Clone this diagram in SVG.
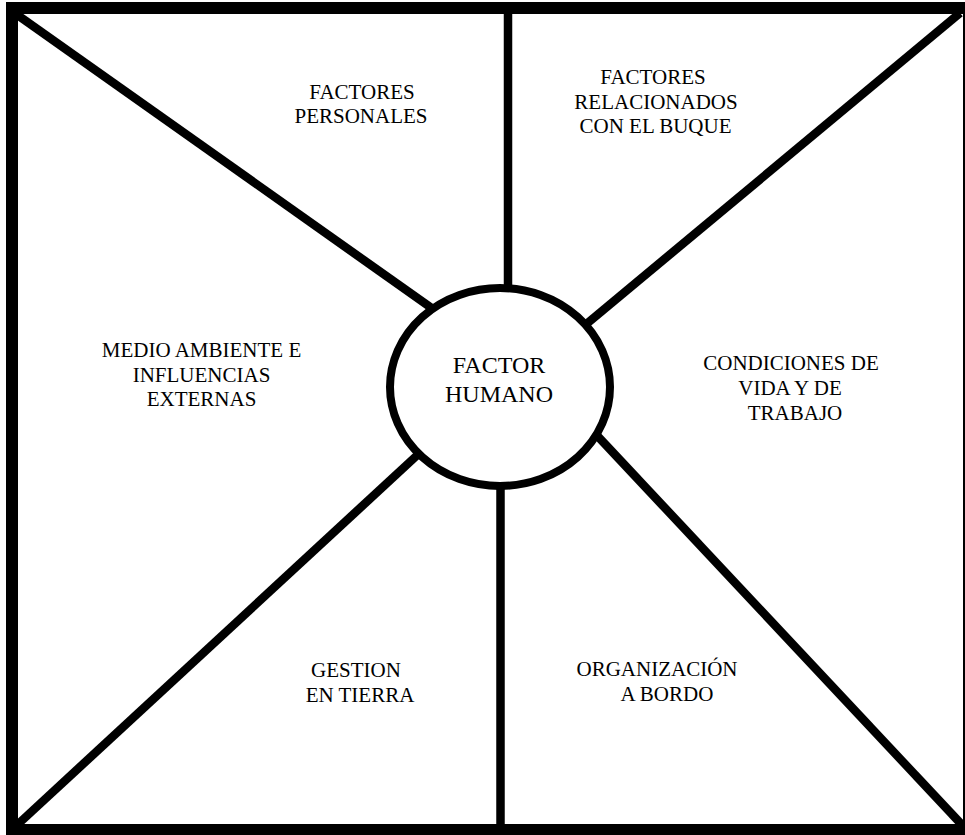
<svg xmlns="http://www.w3.org/2000/svg" width="965" height="835" viewBox="0 0 965 835">
<style>
.ln{stroke:#000;stroke-width:8.5;fill:none}
.t{font-family:"Liberation Serif","Times New Roman",serif;font-size:21px;fill:#000;text-anchor:middle}
.c{font-size:24px}
</style>
<rect width="965" height="835" fill="#fff"/>
<g id="connectors">
<line class="ln" x1="16" y1="14" x2="440" y2="314"/>
<line class="ln" x1="508" y1="14" x2="508" y2="300"/>
<line class="ln" x1="960" y1="13" x2="578" y2="331"/>
<line class="ln" x1="16" y1="826" x2="425" y2="448"/>
<line class="ln" x1="500.5" y1="480" x2="500.5" y2="826"/>
<line class="ln" x1="590" y1="428" x2="964" y2="827"/>
</g>
<g id="frame">
<rect x="12" y="8" width="957" height="822" fill="none" stroke="#000" stroke-width="12"/>
</g>
<g id="factor-humano">
<ellipse cx="500" cy="387" rx="110" ry="99" fill="#fff" stroke="#000" stroke-width="8"/>
<text class="t c" x="499" y="373">FACTOR</text>
<text class="t c" x="499" y="402">HUMANO</text>
</g>
<g id="factores-personales">
<text class="t" x="362" y="99">FACTORES</text>
<text class="t" x="361" y="123">PERSONALES</text>
</g>
<g id="factores-buque">
<text class="t" x="653" y="84">FACTORES</text>
<text class="t" x="656" y="108.5">RELACIONADOS</text>
<text class="t" x="655.5" y="133">CON EL BUQUE</text>
</g>
<g id="medio-ambiente">
<text class="t" x="201.5" y="357">MEDIO AMBIENTE E</text>
<text class="t" x="201.5" y="381.5">INFLUENCIAS</text>
<text class="t" x="201.5" y="405.5">EXTERNAS</text>
</g>
<g id="condiciones">
<text class="t" x="791" y="370">CONDICIONES DE</text>
<text class="t" x="790" y="395">VIDA Y DE</text>
<text class="t" x="795" y="420">TRABAJO</text>
</g>
<g id="gestion">
<text class="t" x="356" y="677">GESTION</text>
<text class="t" x="360" y="702">EN TIERRA</text>
</g>
<g id="organizacion">
<text class="t" x="657" y="676">ORGANIZACIÓN</text>
<text class="t" x="667" y="701">A BORDO</text>
</g>
</svg>
